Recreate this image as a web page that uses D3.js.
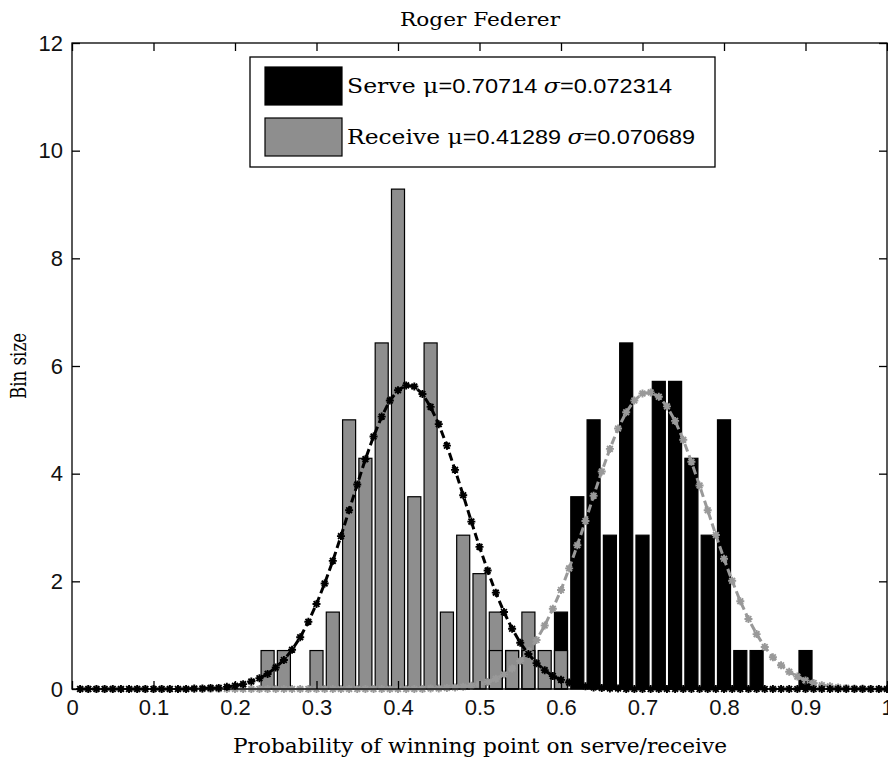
<!DOCTYPE html>
<html>
<head>
<meta charset="utf-8">
<script src="https://cdn.jsdelivr.net/npm/d3@7"></script>
<style>
  body { margin: 0; background: #fff; }
  svg { display: block; }
</style>
</head>
<body>
<svg id="chart" width="888" height="762"></svg>
<script>
// Histogram bins (bin centres, width 0.02) and the number of matches in each bin
const binCenters = [0.24, 0.26, 0.28, 0.30, 0.32, 0.34, 0.36, 0.38, 0.40, 0.42, 0.44, 0.46,
  0.48, 0.50, 0.52, 0.54, 0.56, 0.58, 0.60, 0.62, 0.64, 0.66, 0.68, 0.70, 0.72, 0.74,
  0.76, 0.78, 0.80, 0.82, 0.84, 0.86, 0.88, 0.90];
const serveCounts = [0, 0, 0, 0, 0, 0, 0, 0, 0, 0, 0, 0,
  0, 0, 1, 1, 1, 0, 2, 5, 7, 4, 9, 4, 8, 8,
  6, 4, 7, 1, 1, 0, 0, 1];
const receiveCounts = [1, 1, 0, 1, 2, 7, 6, 9, 13, 5, 9, 2,
  4, 3, 2, 1, 2, 1, 1, 0, 0, 0, 0, 0, 0, 0,
  0, 0, 0, 0, 0, 0, 0, 0];
const sampleCount = 70;
const binWidth = 0.02;

// Fitted normal densities, sampled at x = 0.01, 0.02, ..., 1.00
const serveFit = [
  0, 0, 0, 0, 0, 0, 0, 0, 0, 0,
  0, 0, 0, 0, 0, 0, 0, 0, 0, 0,
  0, 0, 0, 0, 0, 0, 0, 0, 0, 0,
  0, 0, 0, 0, 0, 0, 0, 0, 0, 0,
  0, 0, 0, 0.01, 0.01, 0.02, 0.03, 0.04, 0.06, 0.09,
  0.13, 0.19, 0.27, 0.38, 0.52, 0.70, 0.91, 1.18, 1.49, 1.84,
  2.24, 2.67, 3.12, 3.59, 4.04, 4.46, 4.84, 5.14, 5.36, 5.49,
  5.51, 5.43, 5.25, 4.98, 4.63, 4.22, 3.78, 3.32, 2.86, 2.42,
  2.01, 1.63, 1.30, 1.02, 0.78, 0.59, 0.44, 0.32, 0.23, 0.16,
  0.11, 0.07, 0.05, 0.03, 0.02, 0.01, 0.01, 0, 0, 0
];
const receiveFit = [
  0, 0, 0, 0, 0, 0, 0, 0, 0, 0,
  0, 0, 0, 0, 0.01, 0.01, 0.02, 0.02, 0.04, 0.06,
  0.09, 0.14, 0.20, 0.28, 0.40, 0.54, 0.73, 0.96, 1.25, 1.58,
  1.96, 2.38, 2.84, 3.32, 3.80, 4.27, 4.69, 5.06, 5.36, 5.55,
  5.64, 5.62, 5.48, 5.24, 4.92, 4.52, 4.07, 3.60, 3.11, 2.64,
  2.20, 1.79, 1.43, 1.12, 0.86, 0.65, 0.48, 0.35, 0.24, 0.17,
  0.12, 0.08, 0.05, 0.03, 0.02, 0.01, 0.01, 0, 0, 0,
  0, 0, 0, 0, 0, 0, 0, 0, 0, 0,
  0, 0, 0, 0, 0, 0, 0, 0, 0, 0,
  0, 0, 0, 0, 0, 0, 0, 0, 0, 0
];

const xTicks = [0, 0.1, 0.2, 0.3, 0.4, 0.5, 0.6, 0.7, 0.8, 0.9, 1];
const xTickLabels = ["0", "0.1", "0.2", "0.3", "0.4", "0.5", "0.6", "0.7", "0.8", "0.9", "1"];
const yTicks = [0, 2, 4, 6, 8, 10, 12];
const yTickLabels = ["0", "2", "4", "6", "8", "10", "12"];

const seriesNames = ["Serve", "Receive"];
const seriesMu = ["0.70714", "0.41289"];
const seriesSigma = ["0.072314", "0.070689"];

const titleText = "Roger Federer";
const xLabelText = "Probability of winning point on serve/receive";
const yLabelText = "Bin size";

// ---- layout ----
const W = 888, H = 762;
const plot = { left: 72, top: 43, right: 887, bottom: 689 };
const BAR_GRAY = "#8e8e8e";
const FIT_GRAY = "#999999";
const SERIF = "'DejaVu Serif', 'Liberation Serif', serif";
const SANS = "'Liberation Sans', Arial, sans-serif";

const svg = d3.select("#chart");
svg.append("rect").attr("width", W).attr("height", H).attr("fill", "#fff");

const x = d3.scaleLinear().domain([0, 1]).range([plot.left, plot.right]);
const y = d3.scaleLinear().domain([0, 12]).range([plot.bottom, plot.top]);

const density = c => c / (sampleCount * binWidth);
const barHalf = binWidth * 0.8 / 2;

const serveBins = binCenters.map((c, i) => ({ c, v: density(serveCounts[i]) })).filter(d => d.v > 0);
const receiveBins = binCenters.map((c, i) => ({ c, v: density(receiveCounts[i]) })).filter(d => d.v > 0);

const barG = svg.append("g");
function barRect(sel) {
  sel.attr("x", d => x(d.c - barHalf))
     .attr("width", d => x(d.c + barHalf) - x(d.c - barHalf))
     .attr("y", d => y(d.v))
     .attr("height", d => y(0) - y(d.v));
}
// faces first: serve, then receive on top
barG.selectAll(".serveFace").data(serveBins).join("rect").attr("class", "serveFace")
  .call(barRect).attr("fill", "#000").attr("stroke", "none");
barG.selectAll(".recvFace").data(receiveBins).join("rect").attr("class", "recvFace")
  .call(barRect).attr("fill", BAR_GRAY).attr("stroke", "none");
// outlines of both histograms drawn over the faces
barG.selectAll(".serveEdge").data(serveBins).join("rect").attr("class", "serveEdge")
  .call(barRect).attr("fill", "none").attr("stroke", "#000").attr("stroke-width", 1.2);
barG.selectAll(".recvEdge").data(receiveBins).join("rect").attr("class", "recvEdge")
  .call(barRect).attr("fill", "none").attr("stroke", "#000").attr("stroke-width", 1.2);

// ---- fitted curves ----
const fitX = d3.range(1, 101).map(i => i / 100);
const line = d3.line().x(d => x(d[0])).y(d => y(d[1]));
const starPath = (r) => {
  const k = r * 0.72;
  return `M${-r},0H${r}M0,${-r}V${r}M${-k},${-k}L${k},${k}M${-k},${k}L${k},${-k}`;
};
function drawFit(values, color) {
  const pts = fitX.map((xv, i) => [xv, values[i]]);
  const g = svg.append("g");
  g.append("path").attr("d", line(pts)).attr("fill", "none")
    .attr("stroke", color).attr("stroke-width", 3)
    .attr("stroke-dasharray", "8,4");
  g.selectAll("path.mk").data(pts).join("path").attr("class", "mk")
    .attr("transform", d => `translate(${x(d[0])},${y(d[1])})`)
    .attr("d", starPath(4))
    .attr("stroke", color).attr("stroke-width", 1.9).attr("fill", "none");
}
drawFit(serveFit, FIT_GRAY);
drawFit(receiveFit, "#000");

// ---- axes (ticks inside, box) ----
const axisG = svg.append("g").attr("font-family", SANS);
const axBottom = axisG.append("g").attr("transform", `translate(0,${plot.bottom})`)
  .call(d3.axisBottom(x).tickValues(xTicks).tickFormat((d, i) => xTickLabels[i])
    .tickSizeInner(-8).tickSizeOuter(0).tickPadding(10));
const axLeft = axisG.append("g").attr("transform", `translate(${plot.left},0)`)
  .call(d3.axisLeft(y).tickValues(yTicks).tickFormat((d, i) => yTickLabels[i])
    .tickSizeInner(-8).tickSizeOuter(0).tickPadding(9));
const axTop = axisG.append("g").attr("transform", `translate(0,${plot.top})`)
  .call(d3.axisTop(x).tickValues(xTicks).tickFormat("").tickSizeInner(-8).tickSizeOuter(0));
const axRight = axisG.append("g").attr("transform", `translate(${plot.right},0)`)
  .call(d3.axisRight(y).tickValues(yTicks).tickFormat("").tickSizeInner(-8).tickSizeOuter(0));
[axBottom, axLeft, axTop, axRight].forEach(g => {
  g.select(".domain").remove();
  g.selectAll(".tick line").attr("stroke", "#000").attr("stroke-width", 1.3);
  g.selectAll(".tick text").attr("fill", "#111").attr("font-size", 22).attr("font-family", SANS);
});
svg.append("rect")
  .attr("x", plot.left).attr("y", plot.top)
  .attr("width", plot.right - plot.left).attr("height", plot.bottom - plot.top)
  .attr("fill", "none").attr("stroke", "#000").attr("stroke-width", 1.3);

// ---- legend ----
const lg = svg.append("g");
lg.append("rect").attr("x", 250).attr("y", 57).attr("width", 465).attr("height", 110)
  .attr("fill", "#fff").attr("stroke", "#000").attr("stroke-width", 1.3);
const swatchFill = ["#000", BAR_GRAY];
const legendWidths = [325, 348];
seriesNames.forEach((name, i) => {
  const rowTop = 67 + i * 51;
  lg.append("rect").attr("x", 265).attr("y", rowTop).attr("width", 77).attr("height", 38)
    .attr("fill", swatchFill[i]).attr("stroke", "#000").attr("stroke-width", 1.2);
  const t = lg.append("text").attr("x", 347).attr("y", rowTop + 26)
    .attr("font-size", 21).attr("fill", "#000")
    .attr("textLength", legendWidths[i]).attr("lengthAdjust", "spacingAndGlyphs");
  t.append("tspan").attr("font-family", SERIF).text(name + " ");
  t.append("tspan").attr("font-family", SERIF).text("μ");
  t.append("tspan").attr("font-family", SANS).text("=" + seriesMu[i] + " ");
  t.append("tspan").attr("font-family", SERIF).attr("font-style", "italic").text("σ");
  t.append("tspan").attr("font-family", SANS).text("=" + seriesSigma[i]);
});

// ---- titles ----
svg.append("text").attr("x", 480).attr("y", 26).attr("text-anchor", "middle")
  .attr("font-family", SERIF).attr("font-size", 19).attr("fill", "#000")
  .attr("textLength", 160).attr("lengthAdjust", "spacingAndGlyphs").text(titleText);
svg.append("text").attr("x", 480).attr("y", 753).attr("text-anchor", "middle")
  .attr("font-family", SERIF).attr("font-size", 21).attr("fill", "#000")
  .attr("textLength", 494).attr("lengthAdjust", "spacingAndGlyphs").text(xLabelText);
svg.append("text").attr("transform", "translate(26,366) rotate(-90)").attr("text-anchor", "middle")
  .attr("font-family", SERIF).attr("font-size", 22).attr("fill", "#000")
  .attr("textLength", 66).attr("lengthAdjust", "spacingAndGlyphs").text(yLabelText);
</script>
</body>
</html>
